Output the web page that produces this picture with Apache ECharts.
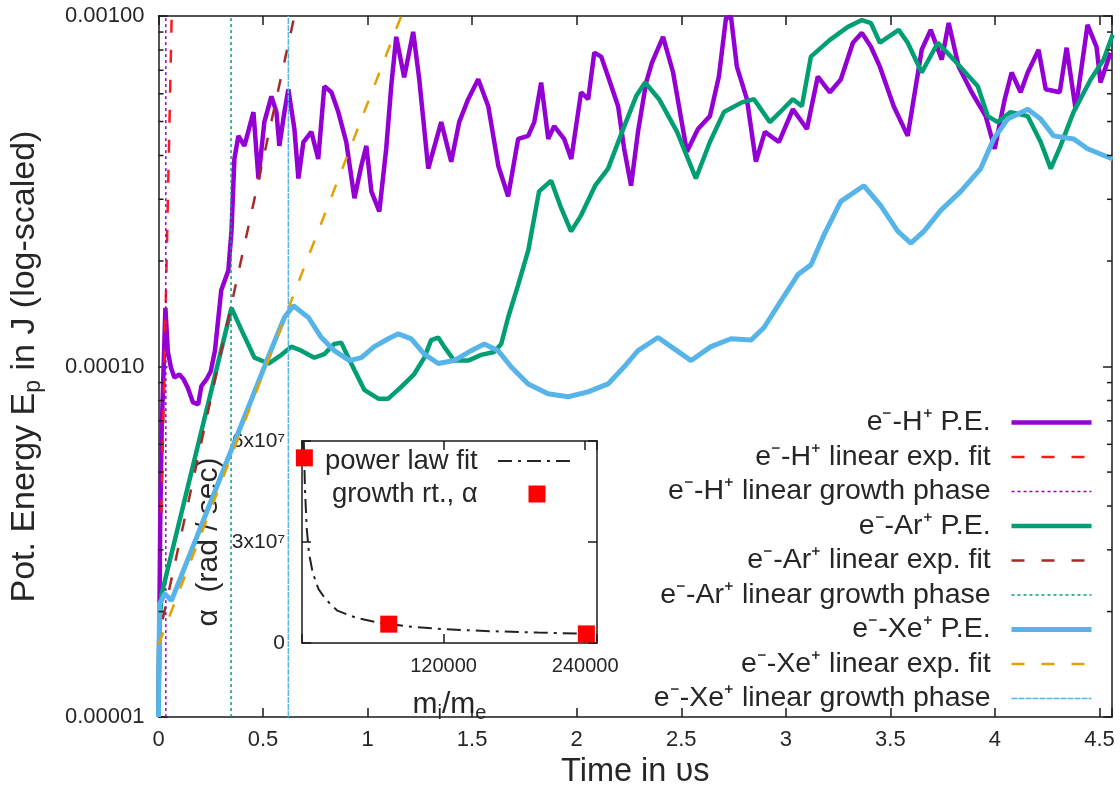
<!DOCTYPE html>
<html><head><meta charset="utf-8">
<script src="https://cdn.jsdelivr.net/npm/echarts@6/dist/echarts.min.js"></script>
<style>html,body{margin:0;padding:0;background:#fff}#c{width:1120px;height:794px}</style>
</head><body><div id="c"></div>
<script>
// ---------- data ----------
// e- - H+ potential energy  [time (us), energy (J)]
const hPE = [[0,1.0e-5],[0.008,3.5e-5],[0.015,6.5e-5],[0.033,1.47e-4],[0.045,1.10e-4],[0.06,0.99e-4],[0.076,0.93e-4],[0.1,0.95e-4],[0.12,0.92e-4],[0.14,0.87e-4],[0.165,0.79e-4],[0.19,0.78e-4],[0.205,0.88e-4],[0.23,0.92e-4],[0.25,0.97e-4],[0.27,1.11e-4],[0.30,1.65e-4],[0.334,1.88e-4],[0.349,2.43e-4],[0.363,3.91e-4],[0.382,4.55e-4],[0.411,4.26e-4],[0.454,5.32e-4],[0.478,3.44e-4],[0.506,4.98e-4],[0.540,5.90e-4],[0.564,5.32e-4],[0.578,4.26e-4],[0.602,5.32e-4],[0.621,6.18e-4],[0.650,4.76e-4],[0.669,3.44e-4],[0.693,4.37e-4],[0.731,4.67e-4],[0.764,3.91e-4],[0.793,6.30e-4],[0.827,6.06e-4],[0.860,5.32e-4],[0.898,4.37e-4],[0.937,3.02e-4],[0.970,3.74e-4],[0.994,4.26e-4],[1.018,3.16e-4],[1.056,2.77e-4],[1.089,4.18e-4],[1.113,6.30e-4],[1.137,8.72e-4],[1.175,6.68e-4],[1.218,9.01e-4],[1.247,6.60e-4],[1.290,3.67e-4],[1.352,4.98e-4],[1.400,3.84e-4],[1.438,4.98e-4],[1.481,5.79e-4],[1.529,6.60e-4],[1.577,5.53e-4],[1.625,3.74e-4],[1.672,3.06e-4],[1.720,4.46e-4],[1.768,4.55e-4],[1.797,4.98e-4],[1.830,6.46e-4],[1.864,4.46e-4],[1.892,4.85e-4],[1.940,4.46e-4],[1.974,3.91e-4],[2.021,6.06e-4],[2.055,5.79e-4],[2.084,7.86e-4],[2.117,7.66e-4],[2.150,6.72e-4],[2.198,5.53e-4],[2.227,4.18e-4],[2.260,3.28e-4],[2.293,4.67e-4],[2.332,6.46e-4],[2.360,7.36e-4],[2.413,8.72e-4],[2.461,6.90e-4],[2.527,4.10e-4],[2.580,4.76e-4],[2.637,5.18e-4],[2.680,6.72e-4],[2.714,9.87e-4],[2.738,9.94e-4],[2.766,7.17e-4],[2.814,5.79e-4],[2.857,3.84e-4],[2.900,4.67e-4],[2.967,4.37e-4],[3.034,5.42e-4],[3.101,4.76e-4],[3.153,6.72e-4],[3.211,6.06e-4],[3.263,6.59e-4],[3.321,8.39e-4],[3.364,8.95e-4],[3.407,8.17e-4],[3.450,7.17e-4],[3.516,5.53e-4],[3.583,4.55e-4],[3.650,8.01e-4],[3.693,9.13e-4],[3.746,7.51e-4],[3.779,9.55e-4],[3.827,7.17e-4],[3.889,6.06e-4],[3.956,5.18e-4],[3.999,4.18e-4],[4.047,5.79e-4],[4.080,6.90e-4],[4.123,6.06e-4],[4.157,6.90e-4],[4.209,8.01e-4],[4.243,6.18e-4],[4.310,6.06e-4],[4.343,8.12e-4],[4.386,5.42e-4],[4.443,9.43e-4],[4.486,8.17e-4],[4.505,6.46e-4],[4.553,7.86e-4]];
const hFit = [[0.014,3.83e-5],[0.063,1.0e-3]];
const hPhaseT = 0.035;

// e- - Ar+ potential energy
const arPE = [[0,1.0e-5],[0.004,1.8e-5],[0.014,2.23e-5],[0.349,1.47e-4],[0.397,1.27e-4],[0.459,1.06e-4],[0.526,1.02e-4],[0.588,1.08e-4],[0.635,1.14e-4],[0.683,1.11e-4],[0.745,1.06e-4],[0.793,1.085e-4],[0.841,1.16e-4],[0.874,1.17e-4],[0.908,1.06e-4],[0.937,0.977e-4],[0.984,0.858e-4],[1.051,0.81e-4],[1.099,0.81e-4],[1.161,0.875e-4],[1.223,0.952e-4],[1.271,1.06e-4],[1.304,1.19e-4],[1.338,1.21e-4],[1.366,1.14e-4],[1.414,1.04e-4],[1.481,1.04e-4],[1.543,1.08e-4],[1.605,1.10e-4],[1.639,1.16e-4],[1.672,1.38e-4],[1.720,1.71e-4],[1.768,2.14e-4],[1.820,3.16e-4],[1.878,3.39e-4],[1.921,2.88e-4],[1.973,2.43e-4],[2.021,2.70e-4],[2.088,3.28e-4],[2.150,3.67e-4],[2.217,4.67e-4],[2.284,5.90e-4],[2.327,6.46e-4],[2.394,5.79e-4],[2.480,4.67e-4],[2.570,3.44e-4],[2.637,4.37e-4],[2.704,5.32e-4],[2.790,5.67e-4],[2.848,5.79e-4],[2.924,4.98e-4],[2.986,5.42e-4],[3.034,5.79e-4],[3.077,5.53e-4],[3.120,7.66e-4],[3.211,8.55e-4],[3.297,9.31e-4],[3.364,9.74e-4],[3.407,9.55e-4],[3.450,8.39e-4],[3.540,9.13e-4],[3.583,8.39e-4],[3.650,6.90e-4],[3.727,8.39e-4],[3.803,7.51e-4],[3.918,6.30e-4],[3.966,5.18e-4],[4.013,4.98e-4],[4.075,5.32e-4],[4.157,5.18e-4],[4.219,4.37e-4],[4.267,3.67e-4],[4.314,4.26e-4],[4.376,5.32e-4],[4.458,6.59e-4],[4.520,7.51e-4],[4.563,8.84e-4]];
const arFit = [[0.02,1.9e-5],[0.65,1.0e-3]];
const arPhaseT = 0.347;

// e- - Xe+ potential energy
const xePE = [[0,1.0e-5],[0.005,2.1e-5],[0.03,2.25e-5],[0.062,2.15e-5],[0.540,1.12e-4],[0.602,1.38e-4],[0.645,1.49e-4],[0.717,1.38e-4],[0.779,1.21e-4],[0.841,1.11e-4],[0.913,1.04e-4],[0.970,1.06e-4],[1.032,1.14e-4],[1.099,1.20e-4],[1.147,1.24e-4],[1.209,1.20e-4],[1.271,1.085e-4],[1.338,1.02e-4],[1.414,1.04e-4],[1.495,1.11e-4],[1.558,1.16e-4],[1.624,1.11e-4],[1.687,0.997e-4],[1.768,0.892e-4],[1.863,0.836e-4],[1.959,0.82e-4],[2.054,0.847e-4],[2.150,0.892e-4],[2.226,0.997e-4],[2.293,1.11e-4],[2.389,1.21e-4],[2.451,1.14e-4],[2.547,1.04e-4],[2.642,1.14e-4],[2.738,1.20e-4],[2.833,1.19e-4],[2.895,1.29e-4],[2.977,1.54e-4],[3.058,1.83e-4],[3.120,1.95e-4],[3.182,2.37e-4],[3.263,2.96e-4],[3.373,3.28e-4],[3.454,2.88e-4],[3.536,2.43e-4],[3.598,2.25e-4],[3.660,2.43e-4],[3.741,2.79e-4],[3.837,3.16e-4],[3.932,3.67e-4],[3.994,4.46e-4],[4.061,5.08e-4],[4.157,5.42e-4],[4.219,5.08e-4],[4.281,4.55e-4],[4.377,4.46e-4],[4.443,4.18e-4],[4.563,3.91e-4]];
const xeFit = [[0,1.61e-5],[1.161,1.0e-3]];
const xePhaseT = 0.621;

// inset: growth rate vs mass ratio
const massRatio = [2000, 73500, 241000];
const growthRate = [5.5e7, 5.6e6, 2.7e6];
const fitMassRatio = [1500, 2500, 4000, 6000, 9000, 14000, 20000, 30000, 45000, 65000, 90000, 120000, 160000, 200000, 245000];
const fitGrowth = [6.0e7, 4.6e7, 3.4e7, 2.65e7, 2.1e7, 1.6e7, 1.3e7, 9.6e6, 7.6e6, 6.0e6, 4.9e6, 4.1e6, 3.5e6, 3.1e6, 2.7e6];

// axes
const timeMin = 0, timeMax = 4.56, timeStep = 0.5;
const energyMin = 1e-5, energyMax = 1e-3;
const minorTickValues = [2e-5,3e-5,4e-5,5e-5,6e-5,7e-5,8e-5,9e-5,2e-4,3e-4,4e-4,5e-4,6e-4,7e-4,8e-4,9e-4];
const insetXMax = 250000, insetXStep = 120000, insetXLabels = [120000, 240000];
const insetYMax = 6e7, insetYStep = 3e7;

const legendNames = ['e⁻-H⁺ P.E.','e⁻-H⁺ linear exp. fit','e⁻-H⁺ linear growth phase','e⁻-Ar⁺ P.E.','e⁻-Ar⁺ linear exp. fit','e⁻-Ar⁺ linear growth phase','e⁻-Xe⁺ P.E.','e⁻-Xe⁺ linear exp. fit','e⁻-Xe⁺ linear growth phase'];
const insetNames = ['power law fit','growth rt., α'];

// ---------- chart ----------
const FONT = '"Liberation Sans", Arial, Helvetica, sans-serif';
const TXT = '#262626';
const AX = '#1a1a1a';
const PURPLE = '#9400d3', RED = '#ff1a1a', GREEN = '#009e73', BROWN = '#a52a2a', BLUE = '#56b4e9', ORANGE = '#e69f00';

const vline = t => [[t, energyMin], [t, energyMax]];
const axLine = {show:true, onZero:false, lineStyle:{color:AX, width:1.5}};
const axTick = {show:true, inside:true, length:9, lineStyle:{color:AX, width:1.5}};

function lineSeries(name, data, color, width, type, z){
  return {name, type:'line', xAxisIndex:0, yAxisIndex:0, data, color,
    symbol:'none', showSymbol:false, clip:true, z,
    lineStyle:{color, width, type}, itemStyle:{color}, emphasis:{disabled:true}};
}
const DASH = [13,17], DOT = [3,3];
const hiddenSymbol = {opacity:0};

const option = {
  animation:false,
  backgroundColor:'#ffffff',
  textStyle:{fontFamily:FONT},
  grid:[
    {left:157, top:16, right:8, bottom:70},
    {left:302, top:441, width:295, height:202}
  ],
  xAxis:[
    {gridIndex:0, type:'value', min:timeMin, max:timeMax, interval:timeStep, position:'bottom',
     axisLine:axLine, axisTick:axTick, splitLine:{show:false},
     axisLabel:{color:TXT, fontSize:22, margin:12, fontFamily:FONT,
       formatter:v => Math.abs(v/timeStep - Math.round(v/timeStep))<1e-6 ? String(+v.toFixed(1)) : ''},
     name:'Time in υs', nameLocation:'middle', nameGap:38,
     nameTextStyle:{fontSize:32.5, color:TXT, fontFamily:FONT}},
    {gridIndex:0, type:'value', min:timeMin, max:timeMax, interval:timeStep, position:'top',
     axisLine:axLine, axisTick:axTick, splitLine:{show:false}, axisLabel:{show:false}},
    {gridIndex:1, type:'value', min:0, max:insetXMax, interval:insetXStep, position:'bottom',
     axisLine:axLine, axisTick:axTick, splitLine:{show:false},
     axisLabel:{color:TXT, fontSize:20, margin:13, fontFamily:FONT,
       formatter:v => insetXLabels.indexOf(v)>=0 ? String(v) : ''},
     name:'{a|m}{s|i}{a|/m}{s|e}', nameLocation:'middle', nameGap:44,
     nameTextStyle:{color:TXT, rich:{a:{fontSize:30, color:TXT, fontFamily:FONT, lineHeight:36},
                                     s:{fontSize:20, color:TXT, fontFamily:FONT, verticalAlign:'bottom', lineHeight:36}}}},
    {gridIndex:1, type:'value', min:0, max:insetXMax, interval:insetXStep, position:'top',
     axisLine:axLine, axisTick:axTick, splitLine:{show:false}, axisLabel:{show:false}}
  ],
  yAxis:[
    {gridIndex:0, type:'log', logBase:10, min:energyMin, max:energyMax, position:'left',
     axisLine:axLine, axisTick:axTick, splitLine:{show:false}, minorTick:{show:false},
     axisLabel:{color:TXT, fontSize:22, margin:14, fontFamily:FONT, formatter:v => v.toFixed(5)},
     name:'{a|Pot. Energy E}{s|p}{a| in J (log-scaled)}', nameLocation:'middle', nameGap:113,
     nameTextStyle:{color:TXT, rich:{a:{fontSize:34, color:TXT, fontFamily:FONT, lineHeight:41},
                                     s:{fontSize:23, color:TXT, fontFamily:FONT, verticalAlign:'bottom', lineHeight:41}}}},
    {gridIndex:0, type:'log', logBase:10, min:energyMin, max:energyMax, position:'right',
     axisLine:axLine, axisTick:axTick, splitLine:{show:false}, axisLabel:{show:false}},
    {gridIndex:1, type:'value', min:0, max:insetYMax, interval:insetYStep, position:'left',
     axisLine:axLine, axisTick:axTick, splitLine:{show:false},
     axisLabel:{color:TXT, fontSize:21, margin:17, fontFamily:FONT,
       formatter:v => v===0 ? '0' : (v/1e7)+'x10⁷'},
     name:'α  (rad / sec)', nameLocation:'middle', nameGap:78,
     nameTextStyle:{fontSize:30, color:TXT, fontFamily:FONT}},
    {gridIndex:1, type:'value', min:0, max:insetYMax, interval:insetYStep, position:'right',
     axisLine:axLine, axisTick:axTick, splitLine:{show:false}, axisLabel:{show:false}}
  ],
  legend:[
    {data:legendNames.map(n => ({name:n, itemStyle:hiddenSymbol})), orient:'vertical', right:26, top:408, align:'right', padding:0,
     itemWidth:80, itemHeight:14, itemGap:5.5, selectedMode:false,
     lineStyle:{width:'inherit'},
     textStyle:{fontSize:28.5, color:TXT, fontFamily:FONT}, formatter:n => n + '  '},
    {data:[{name:insetNames[0], itemStyle:hiddenSymbol}, {name:insetNames[1], icon:'path://M0,0H10V10H0Z'}],
     orient:'vertical', right:543, top:447, align:'right', padding:0,
     itemWidth:78, itemHeight:17, itemGap:5, selectedMode:false, symbolKeepAspect:true,
     lineStyle:{width:'inherit'},
     textStyle:{fontSize:27.5, color:TXT, fontFamily:FONT}, formatter:n => n + '  '}
  ],
  series:[
    lineSeries(legendNames[0], hPE, PURPLE, 4.5, 'solid', 2),
    lineSeries(legendNames[1], hFit, RED, 2.5, DASH, 3),
    lineSeries(legendNames[2], vline(hPhaseT), PURPLE, 1.5, DOT, 3),
    lineSeries(legendNames[3], arPE, GREEN, 4.5, 'solid', 4),
    lineSeries(legendNames[4], arFit, BROWN, 2.5, DASH, 5),
    lineSeries(legendNames[5], vline(arPhaseT), GREEN, 1.5, DOT, 5),
    lineSeries(legendNames[6], xePE, BLUE, 5, 'solid', 6),
    lineSeries(legendNames[7], xeFit, ORANGE, 2.5, DASH, 7),
    lineSeries(legendNames[8], vline(xePhaseT), BLUE, 1.5, [6,1], 7),
    {type:'custom', xAxisIndex:0, yAxisIndex:0, silent:true, z:8,
     data:minorTickValues.map(v => [timeMin, v]),
     renderItem:(params, api) => {
       const cs = params.coordSys;
       const y = api.coord([timeMin, api.value(1)])[1];
       const st = {stroke:AX, lineWidth:1.5};
       return {type:'group', children:[
         {type:'line', shape:{x1:cs.x, y1:y, x2:cs.x+5, y2:y}, style:st},
         {type:'line', shape:{x1:cs.x+cs.width, y1:y, x2:cs.x+cs.width-5, y2:y}, style:st}
       ]};
     }},
    {name:insetNames[0], type:'line', xAxisIndex:2, yAxisIndex:2, z:10,
     data:fitMassRatio.map((m,i) => [m, fitGrowth[i]]), color:'#222',
     symbol:'none', showSymbol:false, clip:true,
     lineStyle:{color:'#222', width:2, type:[14,6,3,6]}, itemStyle:{color:'#222'}},
    {name:insetNames[1], type:'scatter', xAxisIndex:2, yAxisIndex:2, z:11, zlevel:1,
     data:massRatio.map((m,i) => [m, growthRate[i]]), color:'#ff0000',
     symbol:'rect', symbolSize:17, itemStyle:{color:'#ff0000', opacity:1}}
  ]
};
const chart = echarts.init(document.getElementById('c'), null, {renderer:'canvas'});
chart.setOption(option);
</script></body></html>
